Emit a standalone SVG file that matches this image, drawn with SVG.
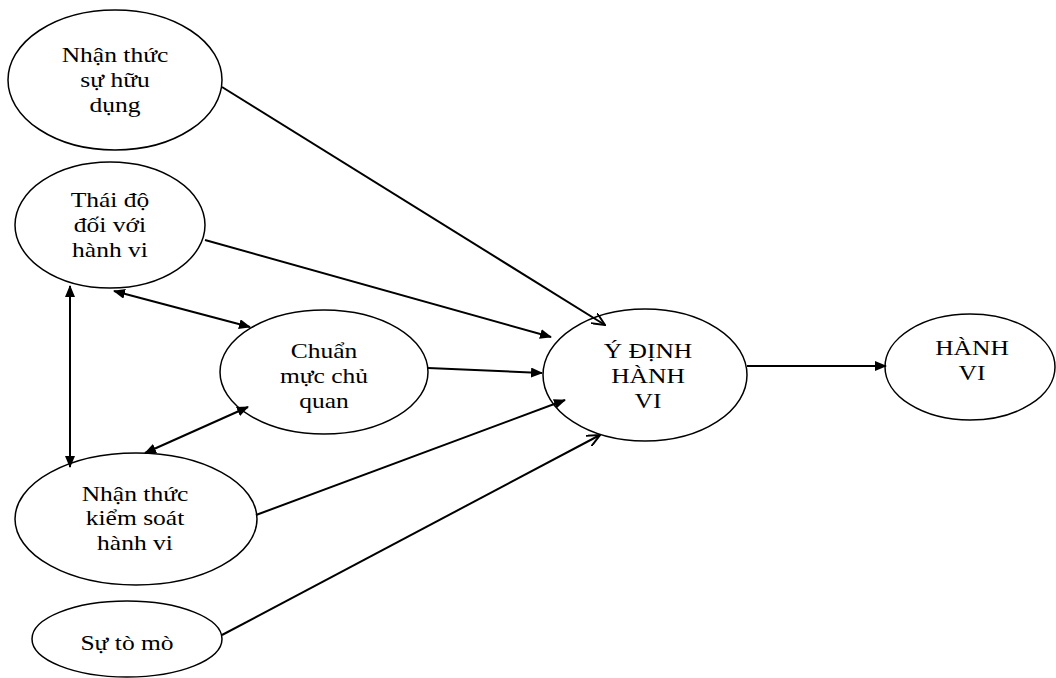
<svg xmlns="http://www.w3.org/2000/svg" width="1056" height="678" viewBox="0 0 1056 678">
<defs>
<style>
.n{fill:#fff;stroke:#000;stroke-width:1.5}
text{font-family:"Liberation Serif","DejaVu Serif",serif;font-size:22px;fill:#000;text-anchor:middle}
.c line{stroke:#000;stroke-width:2}
</style>
<marker id="f" viewBox="0 0 12 10" refX="11" refY="5" markerWidth="12" markerHeight="10" markerUnits="userSpaceOnUse" orient="auto-start-reverse"><path d="M0,0 L12,5 L0,10 Z" fill="#000"/></marker>
<marker id="o" viewBox="0 0 14 12" refX="13" refY="6" markerWidth="14" markerHeight="12" markerUnits="userSpaceOnUse" orient="auto"><path d="M0,0 L13,6 L0,12" fill="none" stroke="#000" stroke-width="2"/></marker>
</defs>
<rect width="1056" height="678" fill="#fff"/>
<g id="huudung"><ellipse class="n" cx="115" cy="80" rx="107" ry="70"/><g transform="translate(115 0) scale(1.16 1)"><text x="0" y="62">Nhận thức</text><text x="0" y="87">sự hữu</text><text x="0" y="112">dụng</text></g></g>
<g id="thaido"><ellipse class="n" cx="110" cy="225" rx="95" ry="63"/><g transform="translate(110 0) scale(1.16 1)"><text x="0" y="207">Thái độ</text><text x="0" y="232">đối với</text><text x="0" y="257">hành vi</text></g></g>
<g id="chuanmuc"><ellipse class="n" cx="324" cy="372" rx="104" ry="62"/><g transform="translate(324 0) scale(1.16 1)"><text x="0" y="358">Chuẩn</text><text x="0" y="383">mực chủ</text><text x="0" y="408">quan</text></g></g>
<g id="kiemsoat"><ellipse class="n" cx="136" cy="519" rx="121" ry="66"/><g transform="translate(135 0) scale(1.16 1)"><text x="0" y="501">Nhận thức</text><text x="0" y="525">kiểm soát</text><text x="0" y="550">hành vi</text></g></g>
<g id="tomo"><ellipse class="n" cx="127" cy="639" rx="95" ry="38"/><g transform="translate(127 0) scale(1.16 1)"><text x="0" y="650">Sự tò mò</text></g></g>
<g id="ydinh"><ellipse class="n" cx="645" cy="375" rx="102" ry="66"/><g transform="translate(648 0) scale(1.16 1)"><text x="0" y="358">Ý ĐỊNH</text><text x="0" y="383">HÀNH</text><text x="0" y="408">VI</text></g></g>
<g id="hanhvi"><ellipse class="n" cx="970" cy="367" rx="85" ry="53"/><g transform="translate(972 0) scale(1.16 1)"><text x="0" y="355">HÀNH</text><text x="0" y="380">VI</text></g></g>
<g class="c">
<line x1="222" y1="87" x2="605" y2="325" marker-end="url(#o)"/>
<line x1="205" y1="240" x2="551" y2="337" marker-end="url(#f)"/>
<line x1="428" y1="368" x2="542" y2="373" marker-end="url(#f)"/>
<line x1="256" y1="515" x2="565" y2="400" marker-end="url(#f)"/>
<line x1="222" y1="635" x2="600" y2="435" marker-end="url(#o)"/>
<line x1="747" y1="366" x2="886" y2="366" marker-end="url(#f)"/>
<line x1="70" y1="286" x2="70" y2="467" marker-start="url(#f)" marker-end="url(#f)"/>
<line x1="114" y1="291" x2="250" y2="327" marker-start="url(#f)" marker-end="url(#f)"/>
<line x1="248" y1="407" x2="145" y2="453" marker-start="url(#f)" marker-end="url(#f)"/>
</g>
</svg>
